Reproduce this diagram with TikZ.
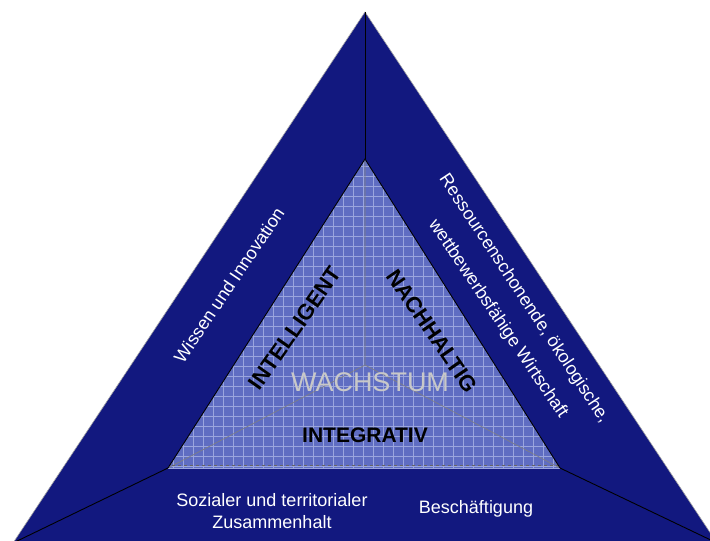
\documentclass[tikz,border=0pt]{standalone}
\usepackage{fontspec}
\setmainfont{Liberation Sans}
\usepackage{tikz}
\definecolor{EUNavy}{HTML}{12187F}
\definecolor{EUSky}{HTML}{5F6DC2}
\definecolor{EUGrid}{HTML}{9AA5DE}
\definecolor{EUGrey}{HTML}{C8C8C8}

\begin{document}
\begin{tikzpicture}[x=1pt, y=-1pt,
		pillar/.style={white, font=\fontsize{18}{22}\selectfont, align=center, inner sep=0pt},
		aim/.style={black, font=\fontsize{22}{26}\selectfont\bfseries, inner sep=0pt},
		gridline/.style={EUGrid, line width=.6pt}]
			\useasboundingbox (0,0) rectangle (710,541);
			\clip (0,0) rectangle (710,541);

			% corners
			\coordinate (outertop) at (365,12);
			\coordinate (outerleft) at (13,543);
			\coordinate (outerright) at (717,543);
			\coordinate (innertop) at (365,159);
			\coordinate (innerleft) at (168,468);
			\coordinate (innerright) at (560,468);
			\coordinate (centre) at (365,365);

			% outer triangle
			\fill[EUNavy, draw=gray!70, line width=.6pt] (outertop) -- (outerleft) -- (outerright) -- cycle;

			% inner triangle with grid
			\begin{scope}
				\clip (innertop) -- (innerleft) -- (innerright) -- cycle;
				\fill[EUSky] (innertop) -- (innerleft) -- (innerright) -- cycle;
				\foreach \gx in {153,163,...,573}{
					\draw[gridline] (\gx,150) -- (\gx,475);
				}
				\foreach \gy in {156,166,...,476}{
					\draw[gridline] (160,\gy) -- (570,\gy);
				}
				\draw[gray, line width=.6pt] (centre) -- (innertop) (centre) -- (innerleft) (centre) -- (innerright);
				\draw[gray!80!black, line width=.6pt, dashed] (160,465.5) -- (570,465.5);
			\end{scope}
			\draw[EUGrid, line width=1pt] (innerleft) -- (innerright);
			\draw[black, line width=.9pt] (innerright) -- (innertop) -- (innerleft);

			% spokes
			\draw[black, line width=.9pt] (outertop) -- (innertop);
			\draw[black, line width=.9pt] (innerleft) -- (outerleft);
			\draw[black, line width=.9pt] (innerright) -- (outerright);

			% priorities
			\node[pillar, rotate=56] (wissen) at (229,285) {Wissen und Innovation};
			\node[pillar, rotate=-56.5] (ressourcen) at (524,299) {Ressourcenschonende, ökologische,};
			\node[pillar, rotate=-56] (wettbewerb) at (498,319) {wettbewerbsfähige Wirtschaft};
			\node[pillar] (sozial) at (272,511) {Sozialer und territorialer\\Zusammenhalt};
			\node[pillar, anchor=base] (beschaeftigung) at (476,513) {Beschäftigung};

			% growth
			\node[aim, rotate=55] (intelligent) at (295,328) {INTELLIGENT};
			\node[aim, rotate=-55.5] (nachhaltig) at (432,331) {NACHHALTIG};
			\node[aim, font=\fontsize{21}{25}\selectfont\bfseries] (integrativ) at (365,435) {INTEGRATIV};
			\node[EUGrey, font=\fontsize{27}{31}\selectfont, inner sep=0pt] (wachstum) at (370,382) {WACHSTUM};

		\end{tikzpicture}
\end{document}
